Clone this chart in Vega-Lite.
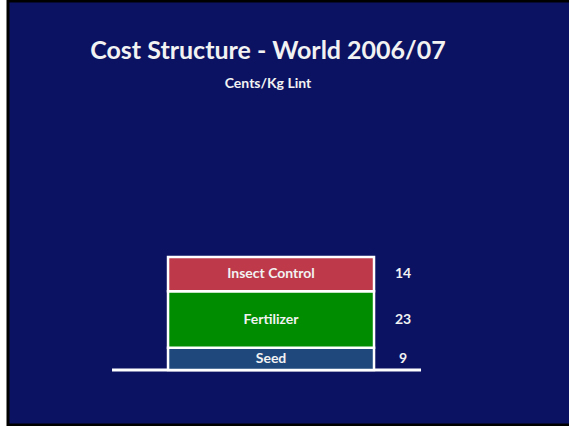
{
  "$schema": "https://vega.github.io/schema/vega-lite/v6.json",
  "width": 564,
  "height": 424,
  "autosize": {"type": "none"},
  "padding": {"left": 8, "top": 1, "right": 0, "bottom": 1},
  "background": "#ffffff",
  "config": {
    "view": {"fill": "#0c1262", "stroke": "#000000", "strokeWidth": 3},
    "font": "Lato"
  },
  "title": {
    "text": "Cost Structure - World 2006/07",
    "subtitle": "Cents/Kg Lint",
    "anchor": "middle",
    "frame": "group",
    "dx": -22,
    "dy": 94,
    "color": "#f2f2f2",
    "subtitleColor": "#f2f2f2",
    "font": "Lato",
    "subtitleFont": "Lato",
    "fontSize": 25,
    "fontWeight": "bold",
    "subtitleFontSize": 14,
    "subtitleFontWeight": "bold",
    "subtitlePadding": 13
  },
  "data": {
    "values": [
      {"item": "World", "cost": "Seed", "value": 9, "order": 1},
      {"item": "World", "cost": "Fertilizer", "value": 23, "order": 2},
      {"item": "World", "cost": "Insect Control", "value": 14, "order": 3}
    ]
  },
  "layer": [
    {
      "transform": [{"filter": "datum.cost == 'Seed'"}],
      "mark": {"type": "tick", "orient": "horizontal", "size": 309, "thickness": 3, "color": "#ffffff", "xOffset": -4.5, "opacity": 1},
      "encoding": {
        "x": {"field": "item", "type": "nominal", "axis": null, "scale": {"paddingInner": 0, "paddingOuter": 0.869, "align": 0.447}},
        "y": {"datum": 0, "type": "quantitative", "axis": null, "scale": {"domain": [-22.4, 150.2], "nice": false, "zero": false}}
      }
    },
    {
      "mark": {"type": "bar", "stroke": "#ffffff", "strokeWidth": 2.5},
      "encoding": {
        "x": {"field": "item", "type": "nominal", "axis": null, "scale": {"paddingInner": 0, "paddingOuter": 0.869, "align": 0.447}},
        "y": {"field": "value", "type": "quantitative", "stack": "zero", "axis": null, "scale": {"domain": [-22.4, 150.2], "nice": false, "zero": false}},
        "color": {"field": "cost", "type": "nominal", "legend": null, "scale": {"domain": ["Seed", "Fertilizer", "Insect Control"], "range": ["#1f497d", "#008c00", "#be3a4a"]}},
        "order": {"field": "order", "type": "quantitative"}
      }
    },
    {
      "transform": [
        {"stack": "value", "groupby": ["item"], "sort": [{"field": "order", "order": "ascending"}], "as": ["v0", "v1"]},
        {"calculate": "(datum.v0 + datum.v1) / 2", "as": "mid"}
      ],
      "layer": [
        {
          "mark": {"type": "text", "color": "#f2f2f2", "fontWeight": "bold", "fontSize": 14, "baseline": "middle", "align": "center"},
          "encoding": {
            "x": {"field": "item", "type": "nominal", "axis": null, "scale": {"paddingInner": 0, "paddingOuter": 0.869, "align": 0.447}},
            "y": {"field": "mid", "type": "quantitative", "axis": null, "scale": {"domain": [-22.4, 150.2], "nice": false, "zero": false}},
            "text": {"field": "cost", "type": "nominal"}
          }
        },
        {
          "mark": {"type": "text", "color": "#f2f2f2", "fontWeight": "bold", "fontSize": 14, "baseline": "middle", "align": "center", "xOffset": 132},
          "encoding": {
            "x": {"field": "item", "type": "nominal", "axis": null, "scale": {"paddingInner": 0, "paddingOuter": 0.869, "align": 0.447}},
            "y": {"field": "mid", "type": "quantitative", "axis": null, "scale": {"domain": [-22.4, 150.2], "nice": false, "zero": false}},
            "text": {"field": "value", "type": "quantitative"}
          }
        }
      ]
    }
  ]
}
